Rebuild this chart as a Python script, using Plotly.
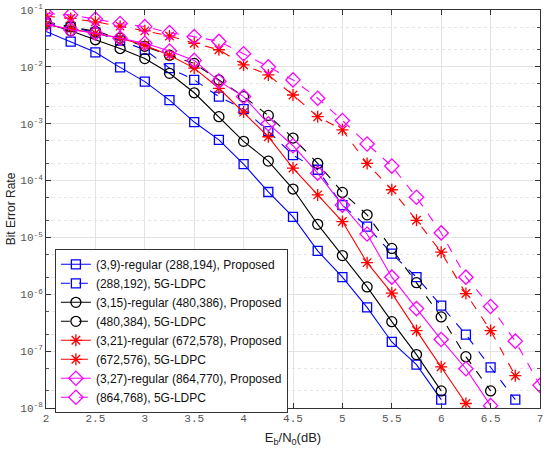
import plotly.graph_objects as go

snr = [2, 2.25, 2.5, 2.75, 3, 3.25, 3.5, 3.75, 4, 4.25, 4.5, 4.75, 5, 5.25, 5.5, 5.75, 6, 6.25, 6.5, 6.75, 7]

ber_288_prop = [0.042, 0.0277, 0.018, 0.0098, 0.0055, 0.0026, 0.00107, 5.2e-4, 1.95e-4, 6.3e-5, 2.3e-5,
                5.8e-6, 2.0e-6, 5.9e-7, 1.45e-7, 5.8e-8, 1.4e-8]
ber_288_5g = [0.058, 0.05, 0.04, 0.029, 0.02, 0.0095, 0.0059, 0.003, 0.0018, 7.4e-4, 2.8e-4, 1.55e-4,
              3.7e-5, 1.55e-5, 5.2e-6, 2.0e-6, 6.3e-7, 1.95e-7, 5.2e-8, 1.4e-8]
ber_480_prop = [0.058, 0.043, 0.030, 0.021, 0.014, 0.0077, 0.0035, 0.00133, 4.9e-4, 2.2e-4, 7.1e-5,
                1.7e-5, 4.8e-6, 1.35e-6, 3.3e-7, 8.7e-8, 2.0e-8]
ber_480_5g = [0.062, 0.051, 0.042, 0.032, 0.023, 0.016, 0.0115, 0.0059, 0.003, 0.0014, 5.6e-4, 2.0e-4,
              6.2e-5, 2.5e-5, 6.4e-6, 1.6e-6, 4.0e-7, 8.0e-8, 2.0e-8]
ber_672_prop = [0.055, 0.047, 0.039, 0.032, 0.024, 0.016, 0.0095, 0.0042, 0.0016, 5.9e-4, 1.66e-4,
                5.6e-5, 1.9e-5, 3.6e-6, 1.05e-6, 2.3e-7, 5.3e-8, 1.2e-8]
ber_672_5g = [0.078, 0.071, 0.062, 0.052, 0.043, 0.035, 0.026, 0.020, 0.0108, 0.0072, 0.0032, 0.00133,
              7.8e-4, 2.0e-4, 6.9e-5, 2.0e-5, 5.5e-6, 1.03e-6, 2.3e-7, 3.7e-8]
ber_864_prop = [0.057, 0.045, 0.039, 0.032, 0.026, 0.019, 0.013, 0.0056, 0.0030, 0.001, 4.1e-4,
                1.35e-4, 3.7e-5, 1.15e-5, 2.0e-6, 5.6e-7, 1.6e-7, 4.9e-8, 1.1e-8]
ber_864_5g = [0.087, 0.082, 0.069, 0.058, 0.051, 0.040, 0.034, 0.028, 0.017, 0.010, 0.0059, 0.0028,
              0.00114, 4.4e-4, 1.8e-4, 5.1e-5, 1.2e-5, 2.0e-6, 6.1e-7, 1.5e-7, 2.5e-8]

names = ["(3,9)-regular (288,194), Proposed", "(288,192), 5G-LDPC",
         "(3,15)-regular (480,386), Proposed", "(480,384), 5G-LDPC",
         "(3,21)-regular (672,578), Proposed", "(672,576), 5G-LDPC",
         "(3,27)-regular (864,770), Proposed", "(864,768), 5G-LDPC"]
series = [ber_288_prop, ber_288_5g, ber_480_prop, ber_480_5g,
          ber_672_prop, ber_672_5g, ber_864_prop, ber_864_5g]
colors = ["#0000ff", "#0000ff", "#000000", "#000000", "#ff0000", "#ff0000", "#ff00ff", "#ff00ff"]
symbols = ["square-open", "square-open", "circle-open", "circle-open",
           "asterisk-open", "asterisk-open", "diamond-open", "diamond-open"]
sizes = [9, 9, 10, 10, 10, 10, 11, 11]

xticks = [2, 2.5, 3, 3.5, 4, 4.5, 5, 5.5, 6, 6.5, 7]
xticklabels = ["2", "2.5", "3", "3.5", "4", "4.5", "5", "5.5", "6", "6.5", "7"]
yticks = [1e-8, 1e-7, 1e-6, 1e-5, 1e-4, 1e-3, 1e-2, 1e-1]
yticklabels = ["10<sup>-8</sup>", "10<sup>-7</sup>", "10<sup>-6</sup>", "10<sup>-5</sup>",
               "10<sup>-4</sup>", "10<sup>-3</sup>", "10<sup>-2</sup>", "10<sup>-1</sup>"]

fig = go.Figure()
for i, (nm, ys) in enumerate(zip(names, series)):
    fig.add_trace(go.Scatter(
        x=snr[:len(ys)], y=ys, name=nm, mode="lines+markers",
        line=dict(color=colors[i], width=1.1, dash="solid" if i % 2 == 0 else "dash"),
        marker=dict(symbol=symbols[i], size=sizes[i], color=colors[i],
                    line=dict(color=colors[i], width=1.3)),
    ))

tickfont = dict(family="Liberation Mono, Courier New, monospace", size=11, color="#555555")
fig.update_layout(
    width=550, height=451,
    margin=dict(l=46, r=10, t=10, b=43, autoexpand=False),
    paper_bgcolor="white", plot_bgcolor="white",
    font=dict(family="Liberation Sans, Arial, sans-serif", size=12, color="#222222"),
    showlegend=True,
    legend=dict(x=0.018, y=0.4, xanchor="left", yanchor="top",
                bgcolor="white", bordercolor="#333333", borderwidth=1,
                font=dict(family="Liberation Sans, Arial, sans-serif", size=12, color="#111111"),
                tracegroupgap=0, itemwidth=30),
)
fig.update_xaxes(
    range=[2, 7], tickvals=xticks, ticktext=xticklabels, tickfont=tickfont,
    showgrid=True, gridcolor="#e3e3e3", gridwidth=1, automargin=False,
    ticks="inside", ticklen=5, tickcolor="#333333",
    showline=True, linecolor="#333333", linewidth=1, mirror="ticks", zeroline=False,
    title=dict(text="E<sub>b</sub>/N<sub>0</sub>(dB)", font=dict(size=13, color="#222222"), standoff=8),
)
fig.update_yaxes(
    type="log", range=[-8, -1], tickvals=yticks, ticktext=yticklabels, tickfont=tickfont,
    showgrid=True, gridcolor="#e3e3e3", gridwidth=1, automargin=False,
    minor=dict(showgrid=True, gridcolor="#e6e6e6", griddash="dot", ticks="inside", ticklen=3,
               tickcolor="#555555"),
    ticks="inside", ticklen=5, tickcolor="#333333",
    showline=True, linecolor="#333333", linewidth=1, mirror="ticks", zeroline=False,
    title=dict(text="Bit Error Rate", font=dict(size=12, color="#222222"), standoff=2),
)

fig.write_html("out.html", config={"displayModeBar": False},
               post_script="document.body.style.margin='0';")
